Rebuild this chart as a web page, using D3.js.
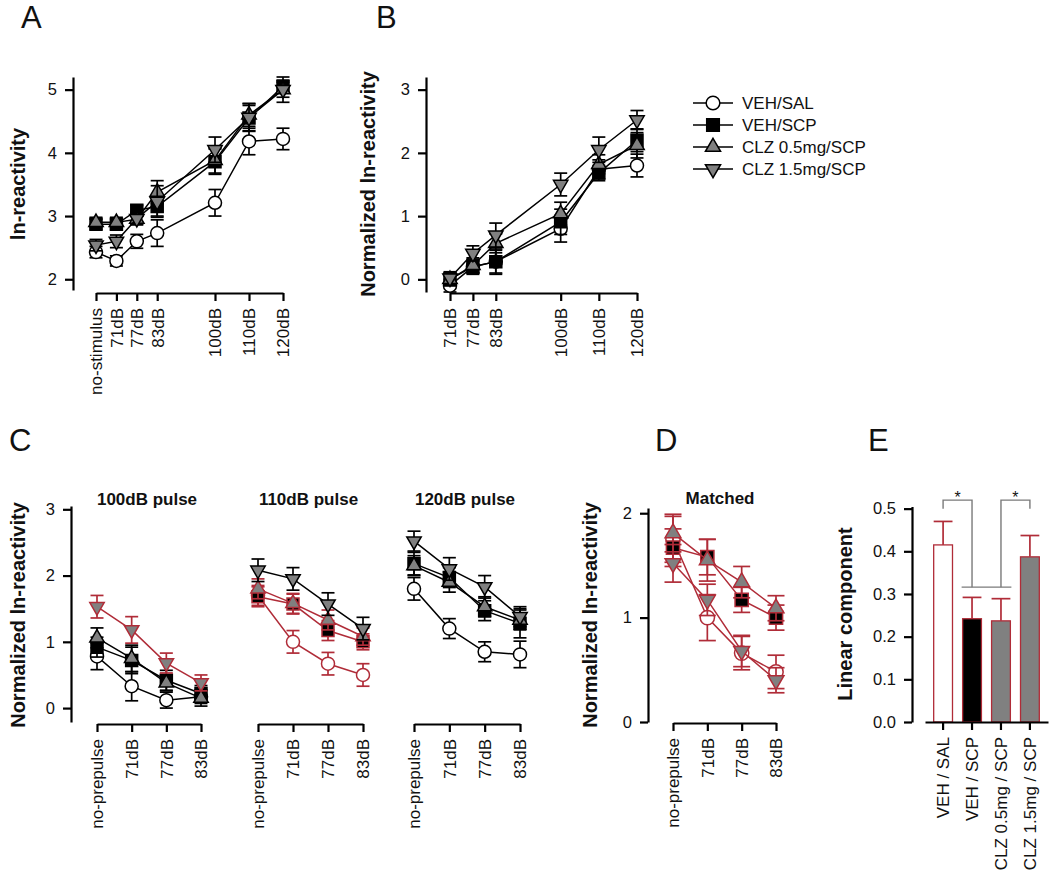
<!DOCTYPE html>
<html><head><meta charset="utf-8">
<script src="https://cdn.jsdelivr.net/npm/d3@7"></script>
<style>
body{margin:0;background:#fff;}
svg{font-family:"Liberation Sans", Arial, sans-serif;}
</style></head><body>
<svg id="chart" width="1050" height="877"></svg>
<script>
// ---------- data ----------
const groups = ["VEH/SAL","VEH/SCP","CLZ 0.5mg/SCP","CLZ 1.5mg/SCP"];
const groupLabelsE = ["VEH / SAL","VEH / SCP","CLZ 0.5mg / SCP","CLZ 1.5mg / SCP"];
const stimLabelsA = ["no-stimulus","71dB","77dB","83dB","100dB","110dB","120dB"];
const stimDbA = [65,71,77,83,100,110,120];
const stimLabelsB = ["71dB","77dB","83dB","100dB","110dB","120dB"];
const stimDbB = [71,77,83,100,110,120];
const prepulseLabels = ["no-prepulse","71dB","77dB","83dB"];
const pulseTitles = ["100dB pulse","110dB pulse","120dB pulse"];

const meansA = [
  [2.43,2.29,2.60,2.73,3.21,4.18,4.22],
  [2.87,2.87,3.09,3.15,3.86,4.55,5.05],
  [2.90,2.90,2.95,3.38,3.88,4.60,5.00],
  [2.54,2.60,2.96,3.23,4.05,4.56,5.00]];
const errA = [
  [0.09,0.08,0.11,0.21,0.21,0.21,0.17],
  [0.08,0.08,0.08,0.15,0.20,0.20,0.10],
  [0.08,0.08,0.08,0.18,0.20,0.18,0.12],
  [0.09,0.10,0.10,0.25,0.20,0.22,0.20]];

const meansB = [
  [-0.10,0.20,0.28,0.80,1.74,1.80],
  [0.00,0.20,0.28,0.91,1.68,2.20],
  [0.00,0.22,0.57,1.04,1.82,2.12],
  [0.02,0.41,0.70,1.50,2.05,2.52]];
const errB = [
  [0.10,0.10,0.20,0.21,0.15,0.18],
  [0.10,0.12,0.18,0.20,0.12,0.18],
  [0.10,0.12,0.15,0.18,0.15,0.20],
  [0.10,0.12,0.19,0.18,0.20,0.15]];

const meansC100 = [
  [0.78,0.33,0.12,0.17],
  [0.92,0.72,0.42,0.22],
  [1.06,0.75,0.38,0.15],
  [1.53,1.18,0.68,0.38]];
const errC100 = [
  [0.20,0.22,0.12,0.10],
  [0.15,0.20,0.15,0.12],
  [0.15,0.20,0.12,0.12],
  [0.17,0.20,0.15,0.12]];
const meansC110 = [
  [1.70,1.00,0.67,0.50],
  [1.68,1.57,1.17,1.00],
  [1.80,1.58,1.33,1.08],
  [2.08,1.95,1.57,1.20]];
const errC110 = [
  [0.15,0.17,0.17,0.17],
  [0.15,0.15,0.15,0.12],
  [0.15,0.15,0.15,0.13],
  [0.17,0.17,0.17,0.17]];
const meansC120 = [
  [1.80,1.20,0.85,0.81],
  [2.18,1.97,1.47,1.28],
  [2.15,1.90,1.53,1.33],
  [2.52,2.10,1.83,1.38]];
const errC120 = [
  [0.17,0.15,0.15,0.20],
  [0.17,0.15,0.15,0.22],
  [0.15,0.15,0.15,0.15],
  [0.15,0.17,0.17,0.15]];
const redC100 = [false,false,false,true];
const redC110 = [true,true,true,false];
const redC120 = [false,false,false,false];

const meansD = [
  [1.75,1.00,0.66,0.48],
  [1.67,1.58,1.17,1.00],
  [1.81,1.55,1.34,1.09],
  [1.52,1.17,0.68,0.40]];
const errD = [
  [0.22,0.22,0.16,0.16],
  [0.18,0.17,0.12,0.12],
  [0.18,0.20,0.15,0.12],
  [0.18,0.15,0.15,0.12]];

const meansE = [0.415,0.242,0.237,0.387];
const errE = [0.055,0.050,0.052,0.050];

// ---------- styles ----------
const RED = "#b02c38";
const GRAY = "#808080";
const FILLS = ["#fff","#000",GRAY,GRAY];
const TXT = "#111";

const svg = d3.select("#chart");

function symbolPath(i, scale) {
  const s = scale || 1;
  if (i === 0) return d3.symbol(d3.symbolCircle, 133*s*s)();
  if (i === 1) return d3.symbol(d3.symbolSquare, 144*s*s)();
  return d3.symbol(d3.symbolTriangle, 90*s*s)();
}

function styleAxis(g, fs) {
  g.selectAll(".domain").attr("stroke","#000").attr("stroke-width",2.2);
  g.selectAll(".tick line").attr("stroke","#000").attr("stroke-width",2.2);
  g.selectAll(".tick text").attr("fill",TXT).style("font-size",fs);
}

function yAxis(y, x, ticks, fmt) {
  const ax = d3.axisLeft(y).tickValues(ticks).tickSize(8).tickPadding(8).tickSizeOuter(0)
    .tickFormat(fmt || d3.format("d"));
  const g = svg.append("g").attr("transform",`translate(${x},0)`).call(ax);
  g.attr("font-family",null);
  styleAxis(g, "16.5px");
}

function xAxisRot(scale, yPos, tickVals, labels) {
  const ax = d3.axisBottom(scale).tickSize(8).tickSizeOuter(0);
  if (tickVals) ax.tickValues(tickVals);
  if (labels) ax.tickFormat((d,i)=>labels[i]);
  const g = svg.append("g").attr("transform",`translate(0,${yPos})`).call(ax);
  g.attr("font-family",null);
  styleAxis(g, "17px");
  g.selectAll(".tick text")
    .attr("transform","rotate(-90)")
    .attr("text-anchor","end")
    .attr("x",-15).attr("y",0).attr("dy","0.35em");
}

function drawSeries(xPos, y, means, errs, isRed, opts) {
  const o = Object.assign({cap:6.5, msize:1}, opts||{});
  const g = svg.append("g");
  means.forEach((m, i) => {
    const col = isRed[i] ? RED : "#000";
    const pts = m.map((v,j)=>({x:xPos[j], v, e:errs[i][j]}));
    g.append("path").datum(pts)
      .attr("d", d3.line().x(d=>d.x).y(d=>y(d.v)))
      .attr("fill","none").attr("stroke",col).attr("stroke-width",1.5);
    const eb = g.append("g").attr("stroke",col).attr("stroke-width",1.7);
    pts.forEach(d => {
      eb.append("line").attr("x1",d.x).attr("x2",d.x).attr("y1",y(d.v-d.e)).attr("y2",y(d.v+d.e));
      eb.append("line").attr("x1",d.x-o.cap).attr("x2",d.x+o.cap).attr("y1",y(d.v-d.e)).attr("y2",y(d.v-d.e));
      eb.append("line").attr("x1",d.x-o.cap).attr("x2",d.x+o.cap).attr("y1",y(d.v+d.e)).attr("y2",y(d.v+d.e));
    });
    g.append("g").selectAll("path").data(pts).join("path")
      .attr("transform", d=>`translate(${d.x},${y(d.v)})${i===3?" rotate(180)":""}`)
      .attr("d", symbolPath(i, o.msize))
      .attr("fill", FILLS[i]).attr("stroke", col).attr("stroke-width",1.5);
  });
}

function yLabel(text, cx, cy) {
  svg.append("text").attr("transform",`translate(${cx},${cy}) rotate(-90)`)
    .attr("text-anchor","middle").attr("dy","0.35em")
    .style("font-size","20px").style("font-weight","bold").attr("fill",TXT).text(text);
}
function panelLetter(t, x, y) {
  svg.append("text").attr("x",x).attr("y",y).style("font-size","31px").attr("fill",TXT).text(t);
}
function title(t, cx, y) {
  svg.append("text").attr("x",cx).attr("y",y).attr("text-anchor","middle")
    .style("font-size","17px").style("font-weight","bold").attr("fill",TXT).text(t);
}

// ---------- Panel A ----------
panelLetter("A", 21, 28);
const xA = d3.scaleLinear().domain([65,120]).range([96,283]);
const yA = d3.scaleLinear().domain([1.83,5.2]).range([290,77]);
yAxis(yA, 73, [2,3,4,5]);
xAxisRot(xA, 293, stimDbA, stimLabelsA);
yLabel("ln-reactivity", 18, 184);
drawSeries(stimDbA.map(xA), yA, meansA, errA, [false,false,false,false]);

// ---------- Panel B ----------
panelLetter("B", 376, 28);
const xB = d3.scaleLinear().domain([71,120]).range([450,637]);
const yB = d3.scaleLinear().domain([-0.2,3.2]).range([292,77]);
yAxis(yB, 426, [0,1,2,3]);
xAxisRot(xB, 293, stimDbB, stimLabelsB);
yLabel("Normalized ln-reactivity", 368, 184);
drawSeries(stimDbB.map(xB), yB, meansB, errB, [false,false,false,false]);

// ---------- Legend ----------
const legendX = 693, legendY = 103, legendStep = 22;
groups.forEach((name, i) => {
  const gy = legendY + i*legendStep;
  const lg = svg.append("g");
  lg.append("line").attr("x1",legendX).attr("x2",legendX+40).attr("y1",gy).attr("y2",gy)
    .attr("stroke","#000").attr("stroke-width",1.5);
  lg.append("path").attr("transform",`translate(${legendX+20},${gy})${i===3?" rotate(180)":""}`)
    .attr("d", symbolPath(i, 1.05)).attr("fill",FILLS[i]).attr("stroke","#000").attr("stroke-width",1.5);
  lg.append("text").attr("x",legendX+49).attr("y",gy).attr("dy","0.36em")
    .style("font-size","17px").attr("fill",TXT).text(name);
});

// ---------- Panel C ----------
panelLetter("C", 9, 451);
const yC = d3.scaleLinear().domain([-0.21,3.05]).range([722,506]);
yAxis(yC, 71, [0,1,2,3]);
yLabel("Normalized ln-reactivity", 18, 615);
const cRanges = [[97,201],[258,363],[414,520]];
const cMeans = [meansC100, meansC110, meansC120];
const cErrs = [errC100, errC110, errC120];
const cRed = [redC100, redC110, redC120];
cRanges.forEach((r, k) => {
  const x = d3.scalePoint().domain(prepulseLabels).range(r);
  xAxisRot(x, 724, null, null);
  title(pulseTitles[k], (r[0]+r[1])/2 - 2, 505);
  drawSeries(prepulseLabels.map(x), yC, cMeans[k], cErrs[k], cRed[k]);
});

// ---------- Panel D ----------
panelLetter("D", 655, 451);
const yD = d3.scaleLinear().domain([0,2.05]).range([722,508]);
yAxis(yD, 648, [0,1,2]);
yLabel("Normalized ln-reactivity", 590, 615);
const xD = d3.scalePoint().domain(prepulseLabels).range([673,776]);
xAxisRot(xD, 723, null, null);
title("Matched", 720, 504);
drawSeries(prepulseLabels.map(xD), yD, meansD, errD, [true,true,true,true], {cap:8.5, msize:1.1});

// ---------- Panel E ----------
panelLetter("E", 868, 451);
const yE = d3.scaleLinear().domain([0,0.505]).range([722,506.5]);
const xE = d3.scaleBand().domain(groupLabelsE).range([925,1048]).paddingInner(0.35).paddingOuter(0.3);
yLabel("Linear component", 845, 614);
const eg = svg.append("g");
groupLabelsE.forEach((lab, i) => {
  const x0 = xE(lab), bw = xE.bandwidth(), cx = x0 + bw/2;
  eg.append("line").attr("x1",cx).attr("x2",cx).attr("y1",yE(meansE[i])).attr("y2",yE(meansE[i]+errE[i]))
    .attr("stroke",RED).attr("stroke-width",1.7);
  eg.append("line").attr("x1",x0).attr("x2",x0+bw).attr("y1",yE(meansE[i]+errE[i])).attr("y2",yE(meansE[i]+errE[i]))
    .attr("stroke",RED).attr("stroke-width",1.7);
  eg.append("rect").attr("x",x0).attr("width",bw).attr("y",yE(meansE[i])).attr("height",yE(0)-yE(meansE[i]))
    .attr("fill",FILLS[i]).attr("stroke",RED).attr("stroke-width",1.3);
});
yAxis(yE, 912, [0,0.1,0.2,0.3,0.4,0.5], d3.format(".1f"));
xAxisRot(xE, 722, null, null);

// significance brackets
const cE = groupLabelsE.map(l => xE(l) + xE.bandwidth()/2);
const sigTop = 0.52, sigEnd = 0.5, sigLow = 0.316;
const sg = svg.append("g").attr("stroke","#7a7a7a").attr("stroke-width",1.4).attr("fill","none");
sg.append("path").attr("d",`M${cE[0]},${yE(sigEnd)}V${yE(sigTop)}H${cE[1]}V${yE(sigLow)}`);
sg.append("path").attr("d",`M${cE[2]},${yE(sigLow)}V${yE(sigTop)}H${cE[3]}V${yE(sigEnd)}`);
sg.append("path").attr("d",`M${xE(groupLabelsE[1])-1},${yE(sigLow)}H${xE(groupLabelsE[2])+xE.bandwidth()+1}`);
svg.append("text").attr("x",(cE[0]+cE[1])/2).attr("y",yE(sigTop)+3).attr("text-anchor","middle")
  .style("font-size","16px").attr("fill",TXT).text("*");
svg.append("text").attr("x",(cE[2]+cE[3])/2).attr("y",yE(sigTop)+3).attr("text-anchor","middle")
  .style("font-size","16px").attr("fill",TXT).text("*");
</script>
</body></html>
